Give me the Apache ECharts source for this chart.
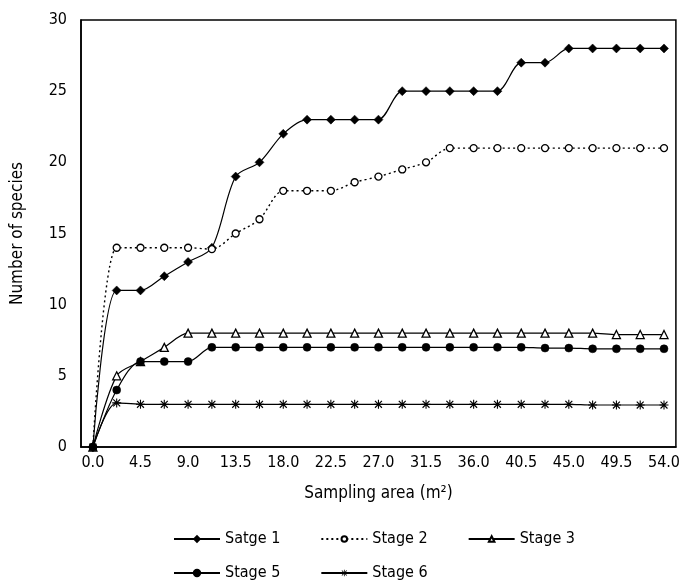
<!DOCTYPE html>
<html><head><meta charset="utf-8">
<script src="https://cdn.jsdelivr.net/npm/echarts@6/dist/echarts.min.js"></script>
<style>html,body{margin:0;padding:0;background:#fff}#c{width:683px;height:582px}</style>
</head><body><div id="c"></div>
<script>
var areas = [0, 2.25, 4.5, 6.75, 9, 11.25, 13.5, 15.75, 18, 20.25, 22.5, 24.75, 27, 29.25, 31.5, 33.75, 36, 38.25, 40.5, 42.75, 45, 47.25, 49.5, 51.75, 54];
var stage1 = [0, 11, 11, 12, 13, 14, 19, 20, 22, 23, 23, 23, 23, 25, 25, 25, 25, 25, 27, 27, 28, 28, 28, 28, 28];
var stage2 = [0, 14, 14, 14, 14, 13.9, 15, 16, 18, 18, 18, 18.6, 19, 19.5, 20, 21, 21, 21, 21, 21, 21, 21, 21, 21, 21];
var stage3 = [0, 5, 6, 7, 8, 8, 8, 8, 8, 8, 8, 8, 8, 8, 8, 8, 8, 8, 8, 8, 8, 8, 7.9, 7.9, 7.9];
var stage5 = [0, 4, 6, 6, 6, 7, 7, 7, 7, 7, 7, 7, 7, 7, 7, 7, 7, 7, 7, 6.95, 6.95, 6.9, 6.9, 6.9, 6.9];
var stage6 = [0, 3.1, 3, 3, 3, 3, 3, 3, 3, 3, 3, 3, 3, 3, 3, 3, 3, 3, 3, 3, 3, 2.95, 2.95, 2.95, 2.95];
var names = ['Satge 1', 'Stage 2', 'Stage 3', 'Stage 5', 'Stage 6'];

var FONT = '"Liberation Sans Narrow","DejaVu Sans Condensed","Liberation Sans",sans-serif';
var asterisk = 'path://M4.4,0L5.6,0L5.6,10L4.4,10Z M0.7,1.6L1.6,0.7L9.3,8.4L8.4,9.3Z M8.4,0.7L9.3,1.6L1.6,9.3L0.7,8.4Z M0,4.4L10,4.4L10,5.6L0,5.6Z';
var cats = areas.map(function(a){ return String(a); });

function mk(name, data, symbol, size, fill, dashed, bw){
  return {
    name: name, type: 'line', data: data.slice(), smooth: 0.3,
    symbol: symbol, symbolSize: size, showSymbol: true,
    lineStyle: {color: '#000', width: dashed ? 1.4 : 1.2, type: dashed ? [2,3] : 'solid'},
    itemStyle: {color: fill, borderColor: '#000', borderWidth: bw},
    emphasis: {disabled: true}, animation: false
  };
}
var legendText = {fontSize: 16, fontFamily: FONT, color: '#000'};
var chart = echarts.init(document.getElementById('c'), null, {renderer: 'canvas'});
chart.setOption({
  backgroundColor: '#fff',
  animation: false,
  textStyle: {fontFamily: FONT, color: '#000'},
  grid: {left: 81, right: 6, top: 20, bottom: 135, show: true, borderColor: '#000', borderWidth: 1.5},
  xAxis: {
    type: 'category', data: cats, boundaryGap: true,
    name: 'Sampling area (m²)', nameLocation: 'middle', nameGap: 38,
    nameTextStyle: {fontSize: 17, fontFamily: FONT, color: '#000'},
    axisLine: {lineStyle: {color: '#000', width: 1.5}},
    axisTick: {inside: true, length: 6, interval: 1, lineStyle: {color: '#000', width: 1.2}},
    axisLabel: {fontSize: 16, fontFamily: FONT, color: '#000', margin: 8, interval: 1,
      formatter: function(v){ return Number(v).toFixed(1); }},
    splitLine: {show: false}
  },
  yAxis: {
    type: 'value', min: 0, max: 30, interval: 5,
    name: 'Number of species', nameLocation: 'middle', nameGap: 55, nameRotate: 90,
    nameTextStyle: {fontSize: 17, fontFamily: FONT, color: '#000'},
    axisLine: {show: true, lineStyle: {color: '#000', width: 1.5}},
    axisTick: {inside: true, length: 6, lineStyle: {color: '#000', width: 1.2}},
    axisLabel: {fontSize: 16, fontFamily: FONT, color: '#000', margin: 14},
    splitLine: {show: false}
  },
  legend: [
    {data: [names[0], names[1], names[2]], top: 526, left: 168, itemGap: 40, itemWidth: 46, itemHeight: 7,
     textStyle: legendText},
    {data: [names[3], names[4]], top: 560, left: 168, itemGap: 40, itemWidth: 46, itemHeight: 8,
     textStyle: legendText}
  ],
  series: [
    mk(names[0], stage1, 'diamond', 9, '#000', false, 0.5),
    mk(names[1], stage2, 'circle', 7, '#fff', true, 1.3),
    mk(names[2], stage3, 'triangle', 8, '#fff', false, 1.3),
    mk(names[3], stage5, 'circle', 8, '#000', false, 0.5),
    mk(names[4], stage6, asterisk, 9, '#000', false, 0)
  ]
});
</script></body></html>
